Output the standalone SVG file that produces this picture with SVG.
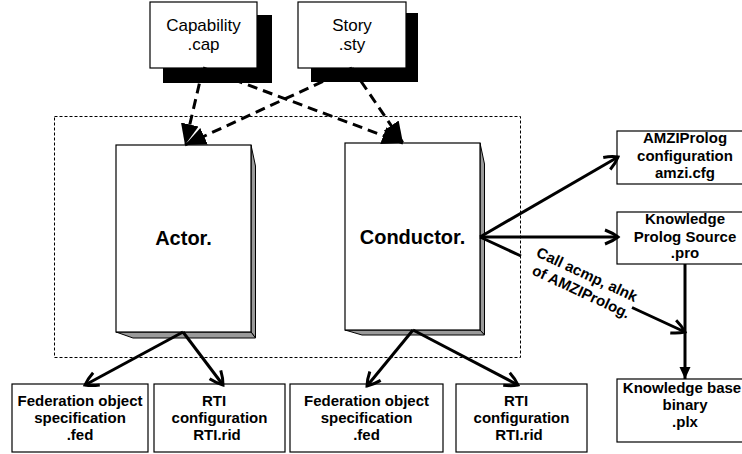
<svg xmlns="http://www.w3.org/2000/svg" width="742" height="454" viewBox="0 0 742 454">
  <style>
    .box { fill: #fff; stroke: #000; stroke-width: 1.2; }
    .shadow { fill: #000; }
    .side { fill: #9a9a9a; stroke: #000; stroke-width: 1; }
    .frame { fill: none; stroke: #000; stroke-width: 1; stroke-dasharray: 3 2; }
    .reg { font-family: "Liberation Sans", Arial, sans-serif; font-size: 17px; text-anchor: middle; }
    .big { font-family: "Liberation Sans", Arial, sans-serif; font-size: 20px; font-weight: bold; text-anchor: middle; }
    .lbl { font-family: "Liberation Sans", Arial, sans-serif; font-size: 15px; font-weight: bold; text-anchor: middle; }
    .dash { fill: none; stroke: #000; stroke-width: 3; stroke-dasharray: 10 6; marker-end: url(#tri); }
    .solid { fill: none; stroke: #000; stroke-width: 3; marker-end: url(#vee); }
  </style>
  <defs>
    <marker id="tri" markerUnits="userSpaceOnUse" viewBox="0 0 22 22" refX="21" refY="11" markerWidth="22" markerHeight="22" orient="auto">
      <path d="M0,2 L21,11 L0,20 Z" fill="#000"/>
    </marker>
    <marker id="tri2" markerUnits="userSpaceOnUse" viewBox="0 0 14 14" refX="12" refY="7" markerWidth="14" markerHeight="14" orient="auto">
      <path d="M0,1.5 L12,7 L0,12.5 Z" fill="#000"/>
    </marker>
    <marker id="vee" markerUnits="userSpaceOnUse" viewBox="-2 -2 18 18" refX="13" refY="7" markerWidth="18" markerHeight="18" orient="auto" overflow="visible">
      <path d="M0,0 Q8,3 13,7 Q8,11 0,14" fill="none" stroke="#000" stroke-width="3"/>
    </marker>
  </defs>

  <!-- dotted boundary around the two federates -->
  <rect class="frame" x="54.5" y="116.5" width="466" height="241"/>

  <g id="capability">
    <rect class="shadow" x="163" y="15" width="109" height="68"/>
    <rect class="box" x="150" y="2" width="107" height="66"/>
    <text class="reg" x="203.5" y="31">Capability</text>
    <text class="reg" x="203.5" y="50">.cap</text>
  </g>

  <g id="story">
    <rect class="shadow" x="311" y="13" width="107" height="69"/>
    <rect class="box" x="298" y="2" width="108" height="66"/>
    <text class="reg" x="352" y="31">Story</text>
    <text class="reg" x="352" y="50">.sty</text>
  </g>

  <g id="actor">
    <polygon class="side" points="251,145 255.5,166 255.5,338 251,332"/>
    <polygon class="side" points="116,332 133,338 255.5,338 251,332"/>
    <rect class="box" x="116" y="145" width="135" height="187"/>
    <text class="big" x="183.5" y="245">Actor.</text>
  </g>

  <g id="conductor">
    <polygon class="side" points="480,143 484.5,164 484.5,335 480,330"/>
    <polygon class="side" points="345,330 362,335 484.5,335 480,330"/>
    <rect class="box" x="345" y="143" width="135" height="187"/>
    <text class="big" x="412.5" y="244">Conductor.</text>
  </g>

  <g id="fed-actor">
    <rect class="box" x="12" y="384" width="136" height="68"/>
    <text class="lbl" x="80" y="406">Federation object</text>
    <text class="lbl" x="80" y="423">specification</text>
    <text class="lbl" x="80" y="440">.fed</text>
  </g>

  <g id="rti-actor">
    <rect class="box" x="154" y="384" width="131" height="68"/>
    <text class="lbl" x="214" y="406">RTI</text>
    <text class="lbl" x="219.5" y="423">configuration</text>
    <text class="lbl" x="217" y="440">RTI.rid</text>
  </g>

  <g id="fed-conductor">
    <rect class="box" x="290" y="384" width="153" height="68"/>
    <text class="lbl" x="366.5" y="406">Federation object</text>
    <text class="lbl" x="366.5" y="423">specification</text>
    <text class="lbl" x="366.5" y="440">.fed</text>
  </g>

  <g id="rti-conductor">
    <rect class="box" x="456" y="384" width="131" height="68"/>
    <text class="lbl" x="516" y="406">RTI</text>
    <text class="lbl" x="521.5" y="423">configuration</text>
    <text class="lbl" x="519" y="440">RTI.rid</text>
  </g>

  <g id="amzi-cfg">
    <rect class="box" x="617" y="131" width="136" height="53"/>
    <text class="lbl" x="685" y="143">AMZIProlog</text>
    <text class="lbl" x="685" y="161">configuration</text>
    <text class="lbl" x="685" y="178">amzi.cfg</text>
  </g>

  <g id="prolog-source">
    <rect class="box" x="617" y="212" width="136" height="52"/>
    <text class="lbl" x="685" y="224">Knowledge</text>
    <text class="lbl" x="685" y="242">Prolog Source</text>
    <text class="lbl" x="685" y="258">.pro</text>
  </g>

  <g id="kb-binary">
    <rect class="box" x="617" y="379" width="136" height="63"/>
    <text class="lbl" x="682" y="393">Knowledge base</text>
    <text class="lbl" x="685" y="410">binary</text>
    <text class="lbl" x="685" y="427">.plx</text>
  </g>

  <g id="connectors">
    <!-- scenario inputs (dashed) -->
    <path class="dash" d="M203,68 L185,145"/>
    <path class="dash" d="M352,68 L185,145"/>
    <path class="dash" d="M203,68 L403,143"/>
    <path class="dash" d="M352,68 L403,143"/>
    <!-- federate outputs -->
    <path class="solid" d="M183,332 L85,385"/>
    <path class="solid" d="M183,332 L223,385"/>
    <path class="solid" d="M413,330 L367,386"/>
    <path class="solid" d="M413,330 L518,385"/>
    <!-- conductor outputs -->
    <path class="solid" d="M480,237 L618,157"/>
    <path class="solid" d="M480,237 L618,237"/>
    <path class="solid" d="M480,237 L521,256 M632,307.5 L685,332"/>
    <path d="M685,264 L685,379" fill="none" stroke="#000" stroke-width="3" marker-end="url(#tri2)"/>
    <g transform="rotate(25 584 281)">
      <text class="lbl" x="584" y="279">Call acmp, alnk</text>
      <text class="lbl" x="586" y="297">of AMZIProlog.</text>
    </g>
  </g>
</svg>
